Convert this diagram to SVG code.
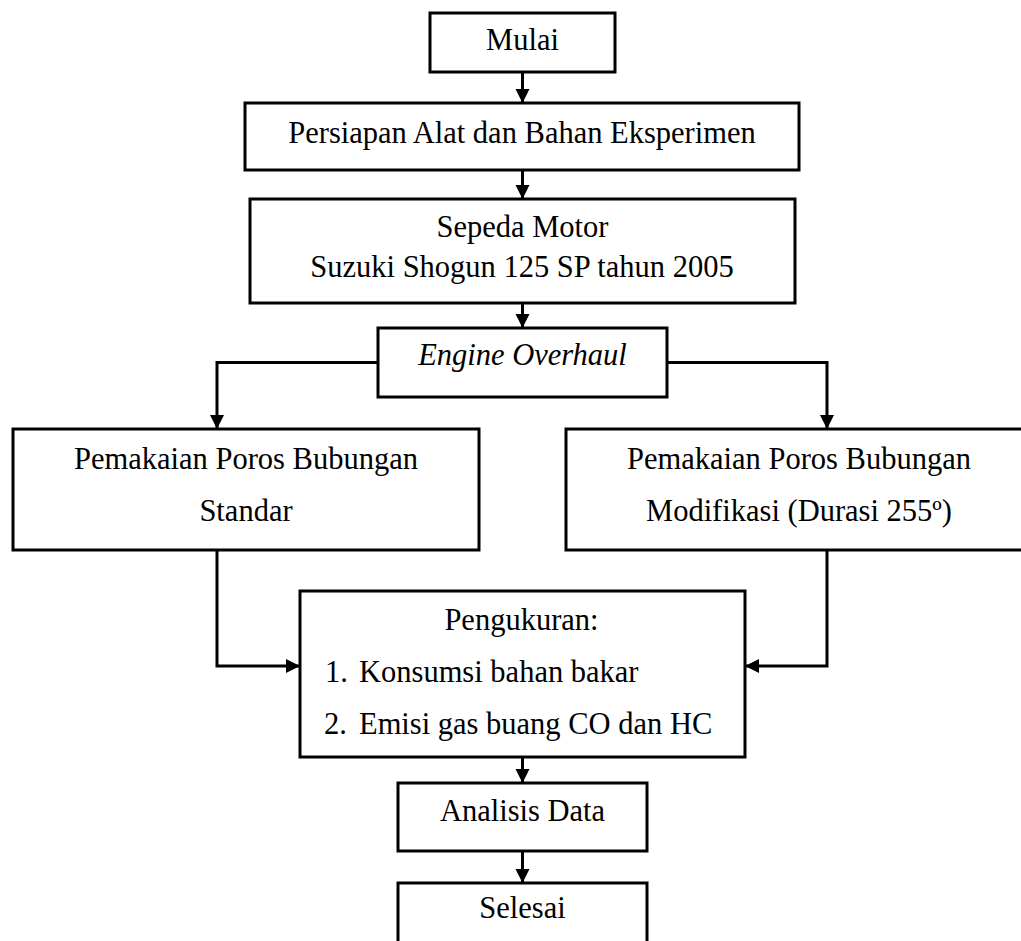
<svg xmlns="http://www.w3.org/2000/svg" width="1021" height="941" viewBox="0 0 1021 941">
<defs>
<style>
.box{fill:#fff;stroke:#000;stroke-width:3}
.t{font-family:"Liberation Serif","Times New Roman",serif;font-size:30.5px;fill:#000}
.c{text-anchor:middle}
.i{font-style:italic}
.conn{fill:none;stroke:#000;stroke-width:3}
</style>
<marker id="arr" markerUnits="userSpaceOnUse" markerWidth="15" markerHeight="15" refX="14" refY="7" orient="auto">
<path d="M0,0 L14,7 L0,14 z" fill="#000"/>
</marker>
</defs>
<rect width="1021" height="941" fill="#fff"/>
<g id="connectors" class="conn" marker-end="url(#arr)">
<path d="M522.5,72 V103"/>
<path d="M522.5,170 V199"/>
<path d="M522.5,303 V328"/>
<path d="M378,362.5 H217 V429"/>
<path d="M667,362.5 H827 V429"/>
<path d="M217,550 V666 H300"/>
<path d="M827,550 V666 H745"/>
<path d="M522.5,757 V783"/>
<path d="M522.5,851 V883"/>
</g>
<g id="mulai"><rect class="box" x="430" y="13" width="185" height="59"/><text class="t c" x="522.5" y="50">Mulai</text></g>
<g id="persiapan"><rect class="box" x="245" y="103" width="554" height="67"/><text class="t c" x="522" y="143">Persiapan Alat dan Bahan Eksperimen</text></g>
<g id="sepeda"><rect class="box" x="250" y="199" width="545" height="104"/><text class="t c" x="522.5" y="237">Sepeda Motor</text><text class="t c" x="522" y="277">Suzuki Shogun 125 SP tahun 2005</text></g>
<g id="engine"><rect class="box" x="378" y="328" width="289" height="69"/><text class="t c i" x="522.5" y="365">Engine Overhaul</text></g>
<g id="standar"><rect class="box" x="13" y="429" width="466" height="121"/><text class="t c" x="246" y="469">Pemakaian Poros Bubungan</text><text class="t c" x="246" y="521">Standar</text></g>
<g id="modifikasi"><rect class="box" x="566" y="429" width="466" height="121"/><text class="t c" x="799" y="469">Pemakaian Poros Bubungan</text><text class="t c" x="799" y="521">Modifikasi (Durasi 255º)</text></g>
<g id="pengukuran"><rect class="box" x="300" y="591" width="445" height="166"/><text class="t c" x="521.5" y="630">Pengukuran:</text><text class="t" x="325" y="682">1.</text><text class="t" x="359" y="682">Konsumsi bahan bakar</text><text class="t" x="324" y="734">2.</text><text class="t" x="359" y="734">Emisi gas buang CO dan HC</text></g>
<g id="analisis"><rect class="box" x="398" y="783" width="249" height="68"/><text class="t c" x="522.5" y="821">Analisis Data</text></g>
<g id="selesai"><rect class="box" x="398" y="883" width="249" height="70"/><text class="t c" x="522.5" y="918">Selesai</text></g>
</svg>
